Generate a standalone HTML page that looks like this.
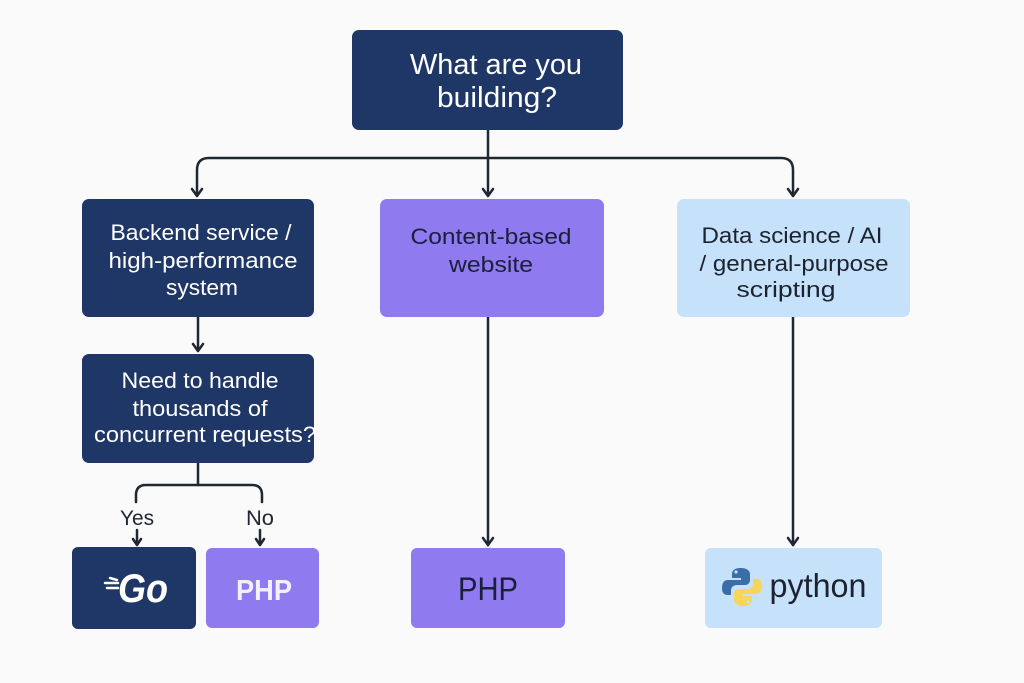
<!DOCTYPE html>
<html>
<head>
<meta charset="utf-8">
<style>
  html,body{margin:0;padding:0;background:#fafafa;}
  svg{display:block;}
  text{font-family:"Liberation Sans", Arial, sans-serif;}
</style>
</head>
<body>
<svg width="1024" height="683" viewBox="0 0 1024 683" xmlns="http://www.w3.org/2000/svg">
  <rect x="0" y="0" width="1024" height="683" fill="#fafafa"/>

  <!-- connectors -->
  <g fill="none" stroke="#1f2733" stroke-width="2.5" stroke-linecap="round" stroke-linejoin="round">
    <!-- top split -->
    <path d="M488 130 L488 195"/>
    <path d="M197 195 L197 170 Q197 158 209 158 L781 158 Q793 158 793 170 L793 195"/>
    <path d="M192 189 L197 196 L202 189"/>
    <path d="M483 189 L488 196 L493 189"/>
    <path d="M788 189 L793 196 L798 189"/>
    <!-- backend -> need -->
    <path d="M198 317 L198 350"/>
    <path d="M193 344 L198 351 L203 344"/>
    <!-- need -> yes/no -->
    <path d="M198 463 L198 485"/>
    <path d="M136 502 L136 495 Q136 485 146 485 L252 485 Q262 485 262 495 L262 502"/>
    <path d="M137 530 L137 544"/>
    <path d="M133 539 L137 545 L141 539"/>
    <path d="M260 530 L260 544"/>
    <path d="M256 539 L260 545 L264 539"/>
    <!-- content -> php -->
    <path d="M488 317 L488 545"/>
    <path d="M483 538 L488 545 L493 538"/>
    <!-- data -> python -->
    <path d="M793 317 L793 545"/>
    <path d="M788 538 L793 545 L798 538"/>
  </g>

  <!-- top box -->
  <rect x="352" y="30" width="271" height="100" rx="7" fill="#1e3766"/>
  <text x="496" y="74" text-anchor="middle" font-size="29" fill="#ffffff" textLength="172" lengthAdjust="spacingAndGlyphs">What are you</text>
  <text x="497" y="107" text-anchor="middle" font-size="29" fill="#ffffff" textLength="120" lengthAdjust="spacingAndGlyphs">building?</text>

  <!-- backend box -->
  <rect x="82" y="199" width="232" height="118" rx="7" fill="#1e3766"/>
  <text x="201" y="240" text-anchor="middle" font-size="22" fill="#ffffff" textLength="181" lengthAdjust="spacingAndGlyphs">Backend service /</text>
  <text x="203" y="268" text-anchor="middle" font-size="22" fill="#ffffff" textLength="189" lengthAdjust="spacingAndGlyphs">high-performance</text>
  <text x="202" y="295" text-anchor="middle" font-size="22" fill="#ffffff" textLength="72" lengthAdjust="spacingAndGlyphs">system</text>

  <!-- need box -->
  <rect x="82" y="354" width="232" height="109" rx="7" fill="#1e3766"/>
  <text x="200" y="388" text-anchor="middle" font-size="22" fill="#ffffff" textLength="157" lengthAdjust="spacingAndGlyphs">Need to handle</text>
  <text x="200" y="416" text-anchor="middle" font-size="22" fill="#ffffff" textLength="135" lengthAdjust="spacingAndGlyphs">thousands of</text>
  <text x="205" y="442" text-anchor="middle" font-size="22" fill="#ffffff" textLength="222" lengthAdjust="spacingAndGlyphs">concurrent requests?</text>

  <!-- content box -->
  <rect x="380" y="199" width="224" height="118" rx="7" fill="#8f7aef"/>
  <text x="491" y="244" text-anchor="middle" font-size="22" fill="#1b1f3b" textLength="161" lengthAdjust="spacingAndGlyphs">Content-based</text>
  <text x="491" y="272" text-anchor="middle" font-size="22" fill="#1b1f3b" textLength="84" lengthAdjust="spacingAndGlyphs">website</text>

  <!-- data box -->
  <rect x="677" y="199" width="233" height="118" rx="7" fill="#c6e1fa"/>
  <text x="792" y="243" text-anchor="middle" font-size="22" fill="#1c2230" textLength="181" lengthAdjust="spacingAndGlyphs">Data science / AI</text>
  <text x="794" y="271" text-anchor="middle" font-size="22" fill="#1c2230" textLength="189" lengthAdjust="spacingAndGlyphs">/ general-purpose</text>
  <text x="786" y="297" text-anchor="middle" font-size="22" fill="#1c2230" textLength="99" lengthAdjust="spacingAndGlyphs">scripting</text>

  <!-- Yes / No -->
  <text x="137" y="525" text-anchor="middle" font-size="21" fill="#1f2733" textLength="34" lengthAdjust="spacingAndGlyphs">Yes</text>
  <text x="260" y="525" text-anchor="middle" font-size="21" fill="#1f2733" textLength="28" lengthAdjust="spacingAndGlyphs">No</text>

  <!-- Go box -->
  <rect x="72" y="547" width="124" height="82" rx="6" fill="#1e3766"/>
  <g stroke="#ffffff" stroke-width="2.5" stroke-linecap="round">
    <line x1="105" y1="583" x2="118" y2="583"/>
    <line x1="107" y1="588" x2="118" y2="588"/>
    <line x1="110" y1="578" x2="117" y2="580"/>
  </g>
  <text x="143" y="602" text-anchor="middle" font-size="40" font-weight="bold" font-style="italic" fill="#ffffff" textLength="50" lengthAdjust="spacingAndGlyphs">Go</text>

  <!-- PHP small -->
  <rect x="206" y="548" width="113" height="80" rx="6" fill="#8f7aef"/>
  <text x="264" y="600" text-anchor="middle" font-size="29" font-weight="bold" fill="#f3f1ff" textLength="56" lengthAdjust="spacingAndGlyphs">PHP</text>

  <!-- PHP mid -->
  <rect x="411" y="548" width="154" height="80" rx="6" fill="#8f7aef"/>
  <text x="488" y="600" text-anchor="middle" font-size="32" fill="#1b1f3b" textLength="60" lengthAdjust="spacingAndGlyphs">PHP</text>

  <!-- python -->
  <rect x="705" y="548" width="177" height="80" rx="6" fill="#c6e1fa"/>
  <g transform="translate(722,567)">
    <path d="M19 1 C12 1 10 4 10 7 L10 11 L19 11 L19 13 L6 13 C2 13 0 16 0 21 C0 26 2 28 6 28 L9 28 L9 23 C9 20 12 18 15 18 L23 18 C26 18 28 16 28 13 L28 7 C28 4 25 1 19 1 Z" fill="#3b6ea8"/>
    <circle cx="14" cy="5" r="1.6" fill="#c6e1fa"/>
    <g transform="rotate(180 20 20)">
      <path d="M19 1 C12 1 10 4 10 7 L10 11 L19 11 L19 13 L6 13 C2 13 0 16 0 21 C0 26 2 28 6 28 L9 28 L9 23 C9 20 12 18 15 18 L23 18 C26 18 28 16 28 13 L28 7 C28 4 25 1 19 1 Z" fill="#f6d55c"/>
      <circle cx="14" cy="5" r="1.6" fill="#c6e1fa"/>
    </g>
  </g>
  <text x="818" y="597" text-anchor="middle" font-size="33" fill="#1c2230" textLength="97" lengthAdjust="spacingAndGlyphs">python</text>
</svg>
</body>
</html>
